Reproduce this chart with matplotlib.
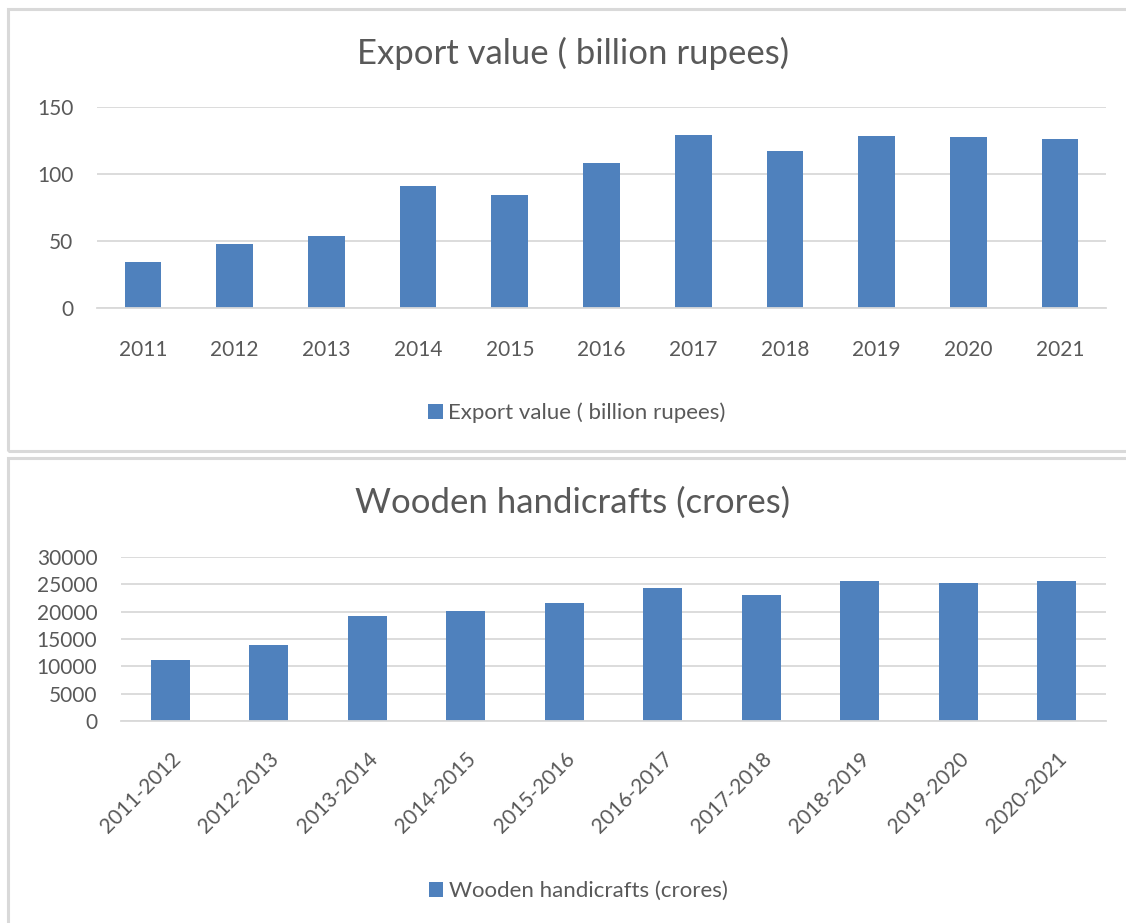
import matplotlib
matplotlib.use("Agg")
import matplotlib.pyplot as plt
from matplotlib.patches import Rectangle

years = ["2011", "2012", "2013", "2014", "2015", "2016",
         "2017", "2018", "2019", "2020", "2021"]
export_value = [34.3, 47.5, 53.7, 91.0, 84.3, 108.0, 129.0, 117.4, 128.4, 127.4, 126.1]

fy = ["2011-2012", "2012-2013", "2013-2014", "2014-2015", "2015-2016",
      "2016-2017", "2017-2018", "2018-2019", "2019-2020", "2020-2021"]
wooden = [11150, 13900, 19200, 20150, 21600, 24400, 23100, 25600, 25300, 25700]

W, H = 1126, 923
BLUE = "#4F81BD"
TXT = "#595959"
GRID = "#D9D9D9"

plt.rcParams['font.family'] = ['Lato', 'DejaVu Sans']

fig = plt.figure(figsize=(W / 100, H / 100), dpi=100)

def fx(px):
    return px / W

def fy_(py):
    return 1 - py / H

# chart frames
fig.patches.append(Rectangle((fx(8), fy_(451)), fx(1140), 442 / H, transform=fig.transFigure,
                             fill=False, edgecolor=GRID, lw=2.2))
fig.patches.append(Rectangle((fx(8), fy_(940)), fx(1140), 482 / H, transform=fig.transFigure,
                             fill=False, edgecolor=GRID, lw=2.2))


def style(ax, ymax, step):
    ax.set_ylim(0, ymax)
    ax.set_yticks(range(0, ymax + 1, step))
    ax.grid(axis='y', color=GRID, lw=1.3)
    ax.set_axisbelow(True)
    for s in ["top", "right", "left"]:
        ax.spines[s].set_visible(False)
    ax.spines["bottom"].set_color(GRID)
    ax.spines["bottom"].set_linewidth(1.3)
    ax.tick_params(axis='both', length=0, colors=TXT, labelsize=15)


def legend(ax, x, y):
    ax.legend(loc='center', bbox_to_anchor=(fx(x), fy_(y)), bbox_transform=fig.transFigure,
              frameon=False, fontsize=16, labelcolor=TXT, handlelength=0.65,
              handleheight=0.65, handletextpad=0.25)


# top chart
ax1 = fig.add_axes([fx(97), fy_(308), fx(1106 - 97), 201 / H])
ax1.bar(years, export_value, width=0.4, color=BLUE, label="Export value ( billion rupees)")
ax1.set_xlim(-0.5, len(years) - 0.5)
style(ax1, 150, 50)
ax1.tick_params(axis='x', pad=23)
ax1.tick_params(axis='y', pad=17)
fig.text(fx(573), fy_(53), "Export value ( billion rupees)", ha='center', va='center',
         fontsize=25, color=TXT)
legend(ax1, 577, 413)

# bottom chart
ax2 = fig.add_axes([fx(121), fy_(721), fx(1106 - 121), 164 / H])
ax2.bar(range(len(fy)), wooden, width=0.4, color=BLUE, label="Wooden handicrafts (crores)")
ax2.set_xlim(-0.5, len(fy) - 0.5)
style(ax2, 30000, 5000)
ax2.set_xticks(range(len(fy)), fy, rotation=45, ha='right', va='top', rotation_mode='anchor')
ax2.tick_params(axis='y', pad=17)
ax2.tick_params(axis='x', pad=20)
fig.text(fx(573), fy_(503), "Wooden handicrafts (crores)", ha='center', va='center',
         fontsize=25, color=TXT)
legend(ax2, 578, 891)

fig.savefig("out.png", dpi=100)
